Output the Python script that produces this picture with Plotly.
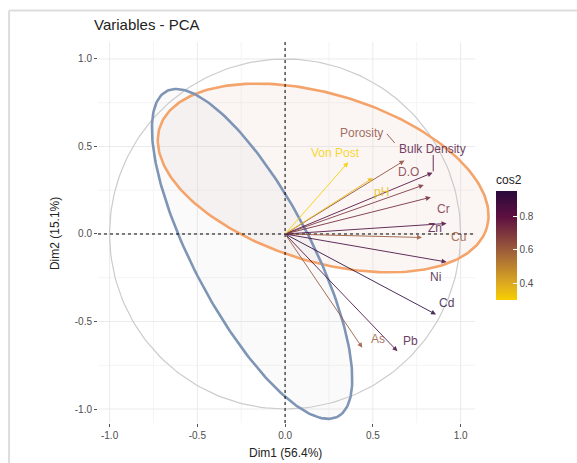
import numpy as np
import plotly.graph_objects as go

# ---- PCA variable coordinates (Dim1, Dim2) and their quality of representation ----
variables = ["Porosity", "Bulk Density", "D.O", "pH", "Von Post", "Cr",
             "Zn", "Cu", "Ni", "Cd", "As", "Pb"]
dim1 = [0.68, 0.84, 0.79, 0.50, 0.36, 0.83, 0.92, 0.78, 0.92, 0.86, 0.44, 0.64]
dim2 = [0.42, 0.35, 0.28, 0.32, 0.41, 0.21, 0.06, -0.02, -0.16, -0.46, -0.65, -0.67]
cos2 = [0.64, 0.83, 0.70, 0.35, 0.30, 0.73, 0.85, 0.61, 0.87, 0.95, 0.61, 0.86]

# group confidence ellipses: centre, semi-axes, rotation (degrees)
ell_cx = [0.217, -0.188]
ell_cy = [0.320, -0.114]
ell_a = [0.975, 1.050]
ell_b = [0.478, 0.334]
ell_angle = [-17.1, -62.3]
ell_line = ["#F4A46A", "#7F95B5"]
ell_fill = ["rgba(232,200,185,0.16)", "rgba(205,205,212,0.09)"]

# axis ticks and grid
tick_vals = [-1.0, -0.5, 0.0, 0.5, 1.0]
tick_text = ["-1.0", "-0.5", "0.0", "0.5", "1.0"]
minor_vals = [-0.75, -0.25, 0.25, 0.75]

# panel extent in data units (the x axis runs a little further to let the
# ellipse outline overflow the grid)
x_lo, x_hi = -1.066, 1.083
y_lo, y_hi = -1.080, 1.097
x_axis_hi = 1.196

# label placement (repelled text positions)
label_pos = {
    "Porosity": (0.433, 0.577), "Bulk Density": (0.838, 0.486),
    "D.O": (0.701, 0.354), "pH": (0.547, 0.240), "Von Post": (0.285, 0.463),
    "Cr": (0.900, 0.143), "Zn": (0.855, 0.034), "Cu": (0.990, -0.017),
    "Ni": (0.855, -0.246), "Cd": (0.917, -0.394), "As": (0.530, -0.600),
    "Pb": (0.712, -0.611),
}
# short connector segments for labels pushed away from their arrow tip
leaders = {
    "Porosity": [(0.580, 0.572), (0.625, 0.520)],
    "Bulk Density": [(0.844, 0.451), (0.844, 0.358)],
}

colorscale = [[0.0, "#F7CF00"], [0.15, "#DDAA20"], [0.45, "#9E5E3A"],
              [0.76, "#5E1040"], [1.0, "#2A0A3C"]]
cmin, cmax = min(cos2), max(cos2)


def hex_rgb(h):
    h = h.lstrip("#")
    return [int(h[i:i + 2], 16) for i in (0, 2, 4)]


def scale_color(v):
    t = (v - cmin) / (cmax - cmin)
    for (p0, c0), (p1, c1) in zip(colorscale[:-1], colorscale[1:]):
        if p0 <= t <= p1:
            f = (t - p0) / (p1 - p0) if p1 > p0 else 0
            a, b = hex_rgb(c0), hex_rgb(c1)
            r = [round(a[i] + f * (b[i] - a[i])) for i in range(3)]
            return "rgb({},{},{})".format(*r)
    return colorscale[-1][1]


colors = [scale_color(v) for v in cos2]
font = "Liberation Sans, Arial, sans-serif"

fig = go.Figure()

# ellipse fills
t = np.linspace(0, 2 * np.pi, 240)
ell_xy = []
for cx, cy, a, b, ang in zip(ell_cx, ell_cy, ell_a, ell_b, ell_angle):
    phi = np.deg2rad(ang)
    ex = cx + a * np.cos(t) * np.cos(phi) - b * np.sin(t) * np.sin(phi)
    ey = cy + a * np.cos(t) * np.sin(phi) + b * np.sin(t) * np.cos(phi)
    ell_xy.append((ex, ey))
for (ex, ey), fc in zip(ell_xy, ell_fill):
    fig.add_trace(go.Scatter(x=ex, y=ey, mode="lines", fill="toself",
                             fillcolor=fc, line=dict(width=0),
                             hoverinfo="skip", showlegend=False))

# correlation circle
fig.add_trace(go.Scatter(x=np.cos(t), y=np.sin(t), mode="lines",
                         line=dict(color="#CCCCCC", width=1.2),
                         hoverinfo="skip", showlegend=False))

# leader segments
for name, seg in leaders.items():
    i = variables.index(name)
    fig.add_trace(go.Scatter(x=[p[0] for p in seg], y=[p[1] for p in seg],
                             mode="lines", line=dict(color=colors[i], width=1),
                             opacity=0.85, hoverinfo="skip", showlegend=False))

# ellipse outlines
for (ex, ey), lc in zip(ell_xy, ell_line):
    fig.add_trace(go.Scatter(x=ex, y=ey, mode="lines",
                             line=dict(color=lc, width=2.6),
                             hoverinfo="skip", showlegend=False))

# invisible markers carrying the cos2 colour bar
fig.add_trace(go.Scatter(
    x=dim1, y=dim2, mode="markers", hoverinfo="skip", showlegend=False,
    marker=dict(size=1, opacity=0, color=cos2, colorscale=colorscale,
                cmin=cmin, cmax=cmax, showscale=True,
                colorbar=dict(
                    title=dict(text="cos2", side="top",
                               font=dict(size=12, color="#222", family=font)),
                    x=1.0025, xanchor="left", xpad=0, ypad=0,
                    y=0.491, yanchor="middle", len=128, lenmode="pixels",
                    thickness=21, outlinewidth=0,
                    tickvals=[0.4, 0.6, 0.8], ticktext=["0.4", "0.6", "0.8"],
                    ticks="inside", ticklen=4, tickcolor="white",
                    tickfont=dict(size=10, color="#4D4D4D", family=font)))))

annotations = []
# arrows from the origin to each variable
for x, y, c in zip(dim1, dim2, colors):
    annotations.append(dict(x=x, y=y, ax=0, ay=0, xref="x", yref="y",
                            axref="x", ayref="y", text="", showarrow=True,
                            arrowhead=2, arrowsize=1.0, arrowwidth=1,
                            arrowcolor=c, opacity=0.85))
# variable labels
for name, c in zip(variables, colors):
    lx, ly = label_pos[name]
    annotations.append(dict(x=lx, y=ly, xref="x", yref="y", text=name,
                            showarrow=False, opacity=0.8,
                            font=dict(size=12, color=c, family=font)))
# title and axis titles
annotations += [
    dict(x=-0.015, y=1.045, xref="paper", yref="paper", text="Variables - PCA",
         showarrow=False, xanchor="left", yanchor="middle",
         font=dict(size=15, color="#222", family=font)),
    dict(x=0.0, y=-0.079, xref="x", yref="paper", text="Dim1 (56.4%)",
         showarrow=False, xanchor="center", yanchor="middle",
         font=dict(size=12, color="#222", family=font)),
    dict(x=-0.108, y=0.0, xref="paper", yref="y", text="Dim2 (15.1%)",
         showarrow=False, textangle=-90, xanchor="center", yanchor="middle",
         font=dict(size=12, color="#222", family=font)),
]

shapes = []
# grid (minor first, then major)
for v, col in [(m, "#F4F4F4") for m in minor_vals] + [(m, "#EBEBEB") for m in tick_vals]:
    shapes.append(dict(type="line", xref="x", yref="y", x0=v, x1=v,
                       y0=y_lo, y1=y_hi, line=dict(color=col, width=1),
                       layer="below"))
    shapes.append(dict(type="line", xref="x", yref="y", x0=x_lo, x1=x_hi,
                       y0=v, y1=v, line=dict(color=col, width=1),
                       layer="below"))
shapes += [
    # dashed zero lines
    dict(type="line", xref="x", yref="y", x0=0, x1=0, y0=y_lo, y1=y_hi,
         line=dict(color="black", width=1, dash="3px,3px"), layer="above"),
    dict(type="line", xref="x", yref="y", x0=x_lo, x1=x_hi, y0=0, y1=0,
         line=dict(color="black", width=1, dash="3px,3px"), layer="above"),
    # outer frame (top and left edges)
    dict(type="line", xref="paper", yref="paper", x0=-0.224, x1=1.3,
         y0=1.083, y1=1.083, line=dict(color="#DDDDDD", width=2)),
    dict(type="line", xref="paper", yref="paper", x0=-0.224, x1=-0.224,
         y0=1.083, y1=-0.2, line=dict(color="#DDDDDD", width=2)),
]

axis_common = dict(
    tickvals=tick_vals, ticktext=tick_text, ticks="outside", ticklen=3,
    tickcolor="#555555", tickwidth=1,
    tickfont=dict(size=10, color="#4D4D4D", family=font),
    showgrid=False, zeroline=False, showline=False,
)

fig.update_layout(
    width=577, height=463,
    margin=dict(l=98, r=82, t=42, b=40),
    paper_bgcolor="white", plot_bgcolor="white",
    xaxis=dict(range=[x_lo, x_axis_hi], **axis_common),
    yaxis=dict(range=[y_lo, y_hi], **axis_common),
    annotations=annotations, shapes=shapes,
    font=dict(family=font),
)

fig.write_html("out.html")
